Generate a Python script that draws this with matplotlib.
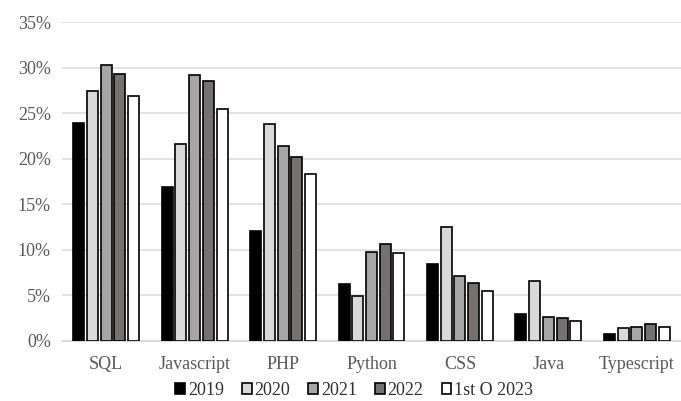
import numpy as np
import matplotlib.pyplot as plt
from matplotlib.ticker import FuncFormatter

# Share of languages by year (%)
languages = ['SQL', 'Javascript', 'PHP', 'Python', 'CSS', 'Java', 'Typescript']
series_names = ['2019', '2020', '2021', '2022', '1st O 2023']
v2019 = [23.9, 16.9, 12.1, 6.2, 8.4, 3.0, 0.7]
v2020 = [27.4, 21.6, 23.8, 4.9, 12.5, 6.6, 1.4]
v2021 = [30.3, 29.2, 21.4, 9.8, 7.1, 2.6, 1.5]
v2022 = [29.3, 28.5, 20.2, 10.6, 6.4, 2.5, 1.8]
v2023 = [26.9, 25.4, 18.3, 9.6, 5.5, 2.2, 1.5]

colors = ['#000000', '#d9d9d9', '#a6a6a6', '#767171', '#ffffff']

plt.rcParams['font.family'] = ['Liberation Serif', 'DejaVu Serif']

fig = plt.figure(figsize=(6.81, 4.01), dpi=100)
ax = fig.add_axes([0.091, 0.150, 0.909, 0.795])

x = np.arange(len(languages))
pitch = 0.155
width = 0.125
all_values = [v2019, v2020, v2021, v2022, v2023]
for i, (name, vals, col) in enumerate(zip(series_names, all_values, colors)):
    ax.bar(x + (i - 2) * pitch, vals, width, color=col, edgecolor='black',
           linewidth=1.2, label=name, zorder=3)

ax.set_xlim(-0.5, len(languages) - 0.5)
ax.set_ylim(0, 35)
ax.set_yticks(np.arange(0, 36, 5))
ax.yaxis.set_major_formatter(FuncFormatter(lambda v, p: f'{int(v)}%'))
ax.set_xticks(x)
ax.set_xticklabels(languages)
ax.tick_params(axis='both', length=0, labelsize=13, colors='#595959')
ax.tick_params(axis='x', pad=11)
ax.tick_params(axis='y', pad=8)
ax.grid(axis='y', color='#e0e0e0', linewidth=1.3, zorder=0)
for side in ['top', 'right', 'left']:
    ax.spines[side].set_visible(False)
ax.spines['bottom'].set_color('#d9d9d9')
ax.spines['bottom'].set_linewidth(1.3)

ax.legend(loc='center', bbox_to_anchor=(0.472, -0.155), ncol=5,
          frameon=False, fontsize=13, handlelength=0.55, handleheight=0.55,
          handletextpad=0.15, columnspacing=1.0, labelcolor='#303030',
          borderpad=0)

fig.savefig('out.png', dpi=100)
